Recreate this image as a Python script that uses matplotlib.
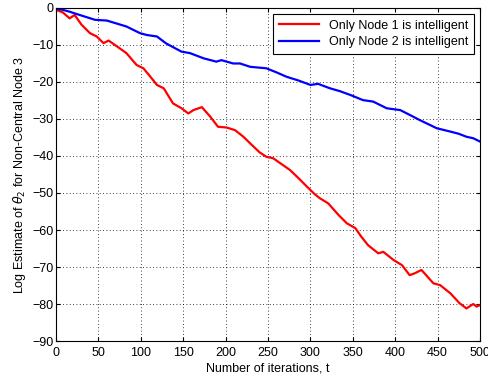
import matplotlib
matplotlib.use('Agg')
import matplotlib.pyplot as plt

plt.rcParams['font.family'] = ['Liberation Sans', 'DejaVu Sans']

# values
t_node1 = [0, 8, 16, 22, 30, 40, 48, 56, 62, 72, 83, 95, 103, 111, 119, 127, 138, 148, 156, 162, 172,
           182, 191, 201, 211, 221, 229, 240, 248, 256, 266, 276, 286, 296, 305, 311, 321, 333, 343, 353,
           360, 368, 380, 386, 398, 408, 417, 423, 431, 445, 453, 465, 476, 484, 492, 496, 500]
v_node1 = [-0.5, -1.2, -2.8, -1.9, -4.5, -6.8, -7.7, -9.5, -8.8, -10.4, -12.2, -15.4, -16.3, -18.5, -20.8,
           -21.7, -25.8, -27.1, -28.5, -27.6, -26.8, -29.4, -32.1, -32.3, -33.0, -34.8, -36.6, -39.0,
           -40.2, -40.6, -42.2, -43.8, -46.0, -48.3, -50.3, -51.4, -52.8, -55.9, -58.2, -59.5, -61.8,
           -64.1, -66.3, -65.9, -68.1, -69.5, -72.2, -71.7, -70.8, -74.4, -74.9, -77.1, -79.8, -81.2,
           -80.0, -80.7, -80.3]

t_node2 = [0, 8, 16, 28, 46, 60, 70, 83, 99, 107, 119, 130, 148, 158, 174, 189, 195, 209, 217, 229,
           248, 260, 272, 286, 300, 309, 323, 335, 347, 362, 374, 390, 406, 418, 429, 449, 465, 475,
           484, 492, 500]
v_node2 = [-0.2, -0.5, -1.0, -1.9, -3.2, -3.4, -4.1, -5.0, -6.8, -7.3, -7.7, -9.6, -11.8, -12.2, -13.6,
           -14.5, -14.1, -15.0, -15.0, -15.9, -16.3, -17.4, -18.6, -19.6, -20.8, -20.5, -21.7, -22.5,
           -23.5, -24.9, -25.3, -27.1, -27.6, -29.0, -30.3, -32.5, -33.4, -34.0, -34.8, -35.2, -36.1]

fig = plt.figure(figsize=(4.88, 3.8), dpi=100)
ax = fig.add_axes([0.1148, 0.1026, 0.8688, 0.8764])

ax.plot(t_node1, v_node1, color='#ff0000', lw=1.6, label='Only Node 1 is intelligent')
ax.plot(t_node2, v_node2, color='#0000ff', lw=1.6, label='Only Node 2 is intelligent')

ax.set_xlim(0, 500)
ax.set_ylim(-90, 0)
ax.set_xticks(range(0, 501, 50))
ax.set_yticks(range(-90, 1, 10))
ax.grid(True, color='black', linestyle=(0, (1, 3)), linewidth=0.6)
ax.tick_params(direction='in', top=True, right=True, labelsize=9, length=3)
ax.tick_params(axis='x', pad=4)
ax.tick_params(axis='y', pad=2)

ax.set_xlabel('Number of iterations, t', fontsize=9, labelpad=3)
ax.set_ylabel('Log Estimate of $\\theta_2$ for Non-Central Node 3', fontsize=9, labelpad=3)

leg = ax.legend(loc='upper right', fontsize=9, fancybox=False, edgecolor='black',
                framealpha=1, borderaxespad=0.5, handlelength=3.2, borderpad=0.45,
                labelspacing=0.35)
leg.get_frame().set_linewidth(0.8)

fig.savefig('out.png', dpi=100)
